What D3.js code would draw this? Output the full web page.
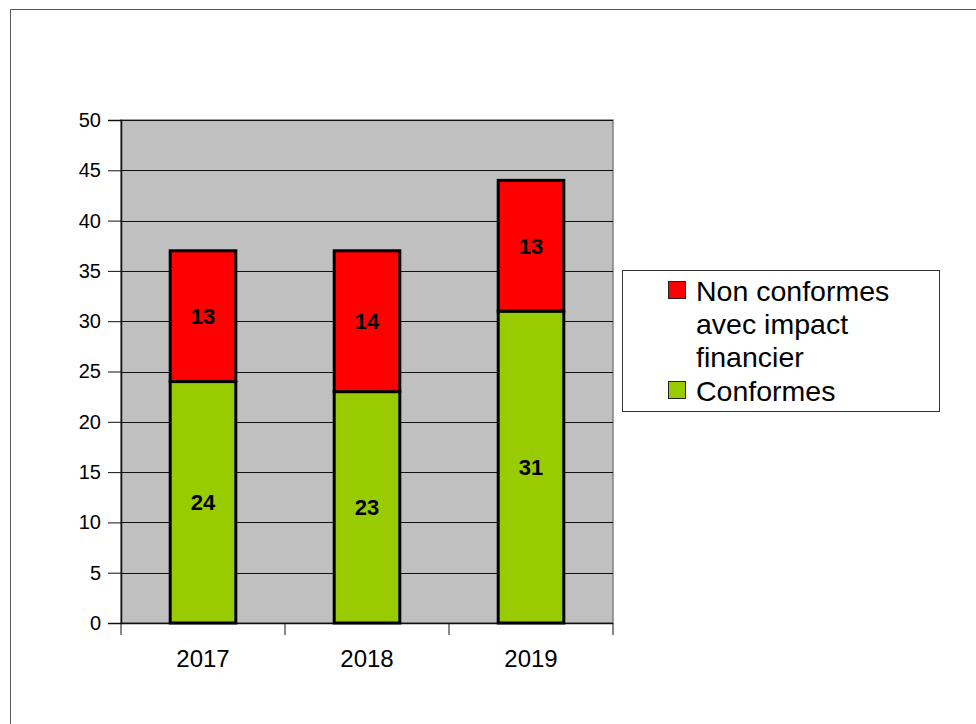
<!DOCTYPE html>
<html><head><meta charset="utf-8">
<script src="https://cdn.jsdelivr.net/npm/d3@7"></script>
<style>html,body{margin:0;padding:0;background:#fff;}svg{display:block;}</style>
</head><body>
<script>
const years = ["2017", "2018", "2019"];
const conformes = [24, 23, 31];
const nonConformes = [13, 14, 13];
const yTicks = [0, 5, 10, 15, 20, 25, 30, 35, 40, 45, 50];
const legendLabels = [["Non conformes", "avec impact", "financier"], ["Conformes"]];
const colors = {conf: "#99cc00", non: "#ff0000"};

(function () {
const W = 976, H = 724;
const svg = d3.select("body").append("svg").attr("width", W).attr("height", H);
const font = "'Liberation Sans', Arial, sans-serif";

// outer frame
svg.append("path").attr("d", `M10.5,${H+5}V9.5H${W+5}`).attr("fill", "none").attr("stroke", "#555").attr("stroke-width", 1);

const pLeft = 121, pRight = 613, pTop = 120, pBottom = 623;
const x = d3.scaleBand().domain(years).range([pLeft, pRight]).paddingInner(0.6).paddingOuter(0.3);
const y = d3.scaleLinear().domain([0, 50]).range([pBottom, pTop]);

// plot background
svg.append("rect").attr("x", pLeft).attr("y", pTop).attr("width", pRight - pLeft).attr("height", pBottom - pTop)
  .attr("fill", "#c0c0c0").attr("stroke", "#808080").attr("stroke-width", 1.5);

// gridlines
svg.append("g").selectAll("line").data(yTicks.filter(d => d > 0)).join("line")
  .attr("x1", pLeft).attr("x2", pRight)
  .attr("y1", d => Math.round(y(d)) + 0.5).attr("y2", d => Math.round(y(d)) + 0.5)
  .attr("stroke", "#111").attr("stroke-width", 1);

// y axis
const yAxis = d3.axisLeft(y).tickValues(yTicks).tickSize(13).tickPadding(7);
const gy = svg.append("g").attr("transform", `translate(${pLeft},0)`).call(yAxis);
gy.select(".domain").attr("stroke", "#111").attr("stroke-width", 1.5);
gy.selectAll(".tick line").attr("stroke", "#111");
gy.selectAll("text").attr("font-family", font).attr("font-size", 20).attr("fill", "#000");

// x axis with ticks at category boundaries
const xEdge = d3.scaleLinear().domain([0, years.length]).range([pLeft, pRight]);
const gx = svg.append("g").attr("transform", `translate(0,${pBottom})`);
gx.append("line").attr("x1", pLeft).attr("x2", pRight).attr("y1", 0.5).attr("y2", 0.5).attr("stroke", "#111").attr("stroke-width", 1.5);
gx.selectAll("line.t").data(d3.range(years.length + 1)).join("line").attr("class", "t")
  .attr("x1", d => xEdge(d)).attr("x2", d => xEdge(d)).attr("y1", 0).attr("y2", 12)
  .attr("stroke", "#111").attr("stroke-width", 1);
gx.selectAll("text").data(years).join("text")
  .attr("x", d => x(d) + x.bandwidth() / 2).attr("y", 44)
  .attr("text-anchor", "middle").attr("font-family", font).attr("font-size", 24).attr("fill", "#000")
  .text(d => d);

// bars
const data = years.map((yr, i) => ({yr, c: conformes[i], n: nonConformes[i]}));
const bars = svg.append("g");
bars.selectAll("rect.c").data(data).join("rect").attr("class", "c")
  .attr("x", d => x(d.yr)).attr("width", x.bandwidth())
  .attr("y", d => y(d.c)).attr("height", d => y(0) - y(d.c))
  .attr("fill", colors.conf).attr("stroke", "#000").attr("stroke-width", 3);
bars.selectAll("rect.n").data(data).join("rect").attr("class", "n")
  .attr("x", d => x(d.yr)).attr("width", x.bandwidth())
  .attr("y", d => y(d.c + d.n)).attr("height", d => y(d.c) - y(d.c + d.n))
  .attr("fill", colors.non).attr("stroke", "#000").attr("stroke-width", 3);

// value labels
const lab = svg.append("g").attr("font-family", font).attr("font-size", 22).attr("font-weight", "bold").attr("text-anchor", "middle");
data.forEach(d => {
  lab.append("text").attr("x", x(d.yr) + x.bandwidth() / 2).attr("y", y(d.c / 2)).attr("dy", "0.36em").text(d.c);
  lab.append("text").attr("x", x(d.yr) + x.bandwidth() / 2).attr("y", y(d.c + d.n / 2)).attr("dy", "0.36em").text(d.n);
});

// legend
const lg = svg.append("g");
lg.append("rect").attr("x", 622.5).attr("y", 270.5).attr("width", 317).attr("height", 141)
  .attr("fill", "#fff").attr("stroke", "#333").attr("stroke-width", 1);
const legendItems = [{lines: legendLabels[0], color: colors.non, base: 301}, {lines: legendLabels[1], color: colors.conf, base: 401}];
legendItems.forEach(it => {
  lg.append("rect").attr("x", 668.5).attr("y", it.base - 19.5).attr("width", 17).attr("height", 17)
    .attr("fill", it.color).attr("stroke", "#222").attr("stroke-width", 1);
  it.lines.forEach((t, j) => {
    lg.append("text").attr("x", 696).attr("y", it.base + j * 33)
      .attr("font-family", font).attr("font-size", 28.5).attr("fill", "#000").text(t);
  });
});
})();
</script>
</body></html>
